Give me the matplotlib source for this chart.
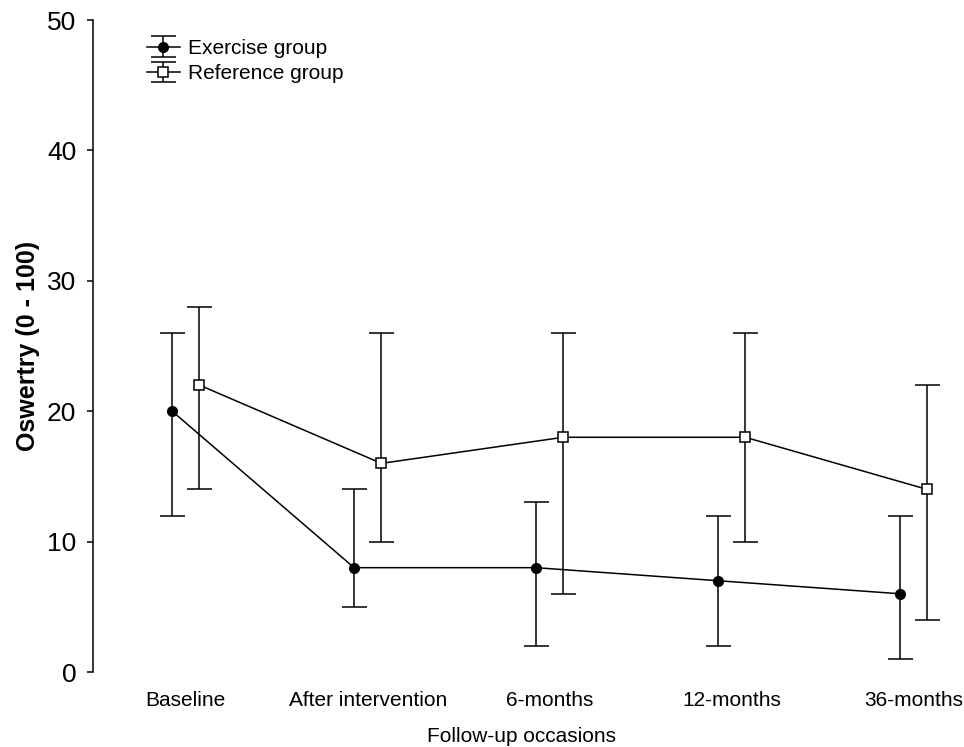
import matplotlib.pyplot as plt
import numpy as np

plt.rcParams['font.family'] = ['Liberation Sans', 'DejaVu Sans']

# Data
occasions = ['Baseline', 'After intervention', '6-months', '12-months', '36-months']
exercise_mean = [20, 8, 8, 7, 6]
exercise_low = [12, 5, 2, 2, 1]
exercise_high = [26, 14, 13, 12, 12]
reference_mean = [22, 16, 18, 18, 14]
reference_low = [14, 10, 6, 10, 4]
reference_high = [28, 26, 26, 26, 22]

x = np.arange(len(occasions))
offset = 0.075

fig = plt.figure(figsize=(9.64, 7.47), dpi=100)
ax = fig.add_axes([93 / 964, 1 - 672 / 747, (950 - 93) / 964, (672 - 20) / 747])

ex_err = [np.array(exercise_mean) - np.array(exercise_low),
          np.array(exercise_high) - np.array(exercise_mean)]
ref_err = [np.array(reference_mean) - np.array(reference_low),
           np.array(reference_high) - np.array(reference_mean)]

ax.errorbar(x - offset, exercise_mean, yerr=ex_err, fmt='-o', color='black',
            mfc='black', mec='black', ms=7, lw=1.1, elinewidth=1.1,
            capsize=9, capthick=1.1, label='Exercise group')
ax.errorbar(x + offset, reference_mean, yerr=ref_err, fmt='-s', color='black',
            mfc='white', mec='black', ms=7, mew=1.1, lw=1.1, elinewidth=1.1,
            capsize=9, capthick=1.1, label='Reference group')

ax.set_ylim(0, 50)
ax.set_yticks([0, 10, 20, 30, 40, 50])
ax.set_xlim(-0.51, 4.2)
ax.set_xticks(x)
ax.set_xticklabels(occasions, fontsize=15)
ax.tick_params(axis='x', length=0, pad=14)
ax.tick_params(axis='y', labelsize=19, length=4, width=1.1, pad=8)

for s in ['top', 'right', 'bottom']:
    ax.spines[s].set_visible(False)
ax.spines['left'].set_linewidth(1.1)

ax.set_ylabel('Oswertry (0 - 100)', fontsize=18, fontweight='bold', labelpad=5)
ax.set_xlabel('Follow-up occasions', fontsize=15, labelpad=12)

ax.legend(loc='upper left', bbox_to_anchor=(0.048, 0.99), frameon=False,
          fontsize=15, handlelength=1.6, handletextpad=0.4, labelspacing=0.3,
          borderaxespad=0.2)

fig.savefig('out.png', dpi=100)
